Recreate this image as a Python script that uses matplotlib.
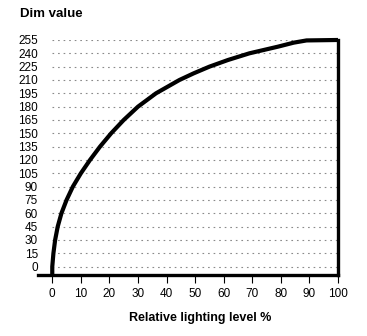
import numpy as np
import matplotlib
matplotlib.use("Agg")
import matplotlib.pyplot as plt

plt.rcParams['font.family'] = ['Liberation Sans', 'DejaVu Sans']

# curve (relative level %, dim value)
level = [0, 0, 0.4, 1.0, 1.9, 3.2, 5.0, 7.2, 10.0, 13.2, 16.7, 20.6, 25.0,
         30.0, 36.3, 44.5, 49.5, 55.0, 61.5, 69, 79, 84.5, 89, 100]
dim = [-9, 0, 15, 30, 45, 60, 75, 90, 105, 120, 135, 150, 165,
       180, 195, 210, 217.5, 225, 232.5, 240, 247.5, 252, 254.5, 255]

y_ticks = list(range(0, 256, 15))
x_ticks = list(range(0, 101, 10))

fig = plt.figure(figsize=(3.67, 3.36), dpi=100)
ax = fig.add_axes([0.1035, 0.1815, 0.8175, 0.6995])

ax.hlines(y_ticks, 0, 100, colors='#8a8a8a', linewidth=0.8,
          linestyles=(0, (1.5, 3.5)), zorder=1)
ax.plot(level, dim, color='black', lw=3, solid_capstyle='butt',
        solid_joinstyle='round', clip_on=False, zorder=3)

ax.set_xlim(-5, 100)
ax.set_ylim(-9.4, 255)

ax.spines['top'].set_visible(False)
ax.spines['left'].set_visible(False)
ax.spines['bottom'].set_linewidth(2.4)
ax.spines['right'].set_linewidth(2.4)

ax.set_xticks(x_ticks)
ax.set_yticks(y_ticks)
ax.tick_params(axis='x', direction='out', length=6, width=0.8, pad=3,
               labelsize=8.5)
ax.tick_params(axis='y', length=0, pad=0, labelsize=8.5)

fig.text(0.055, 0.958, 'Dim value', fontsize=9.5, fontweight='bold',
         ha='left', va='center')
fig.text(0.545, 0.054, 'Relative lighting level %', fontsize=9,
         fontweight='bold', ha='center', va='center')

fig.savefig('out.png', dpi=100)
